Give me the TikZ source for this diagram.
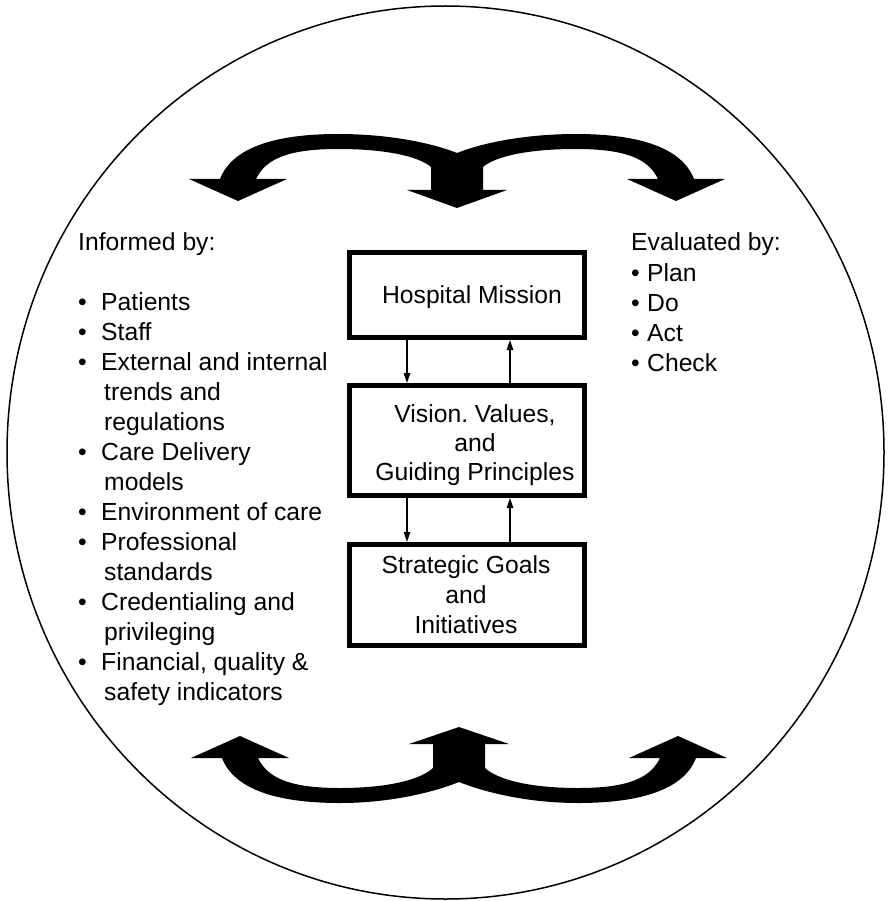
\documentclass[tikz,border=0pt]{standalone}
\usepackage{fontspec}
\setmainfont{Liberation Sans}
\frenchspacing
\usetikzlibrary{arrows.meta}
\newcommand\bu{\makebox[23pt][l]{•}}
\newcommand\bur{\makebox[16pt][l]{•}}
\begin{document}
\begin{tikzpicture}[x=1pt,y=-1pt,
  box/.style={draw, line width=5pt, minimum width=235pt, inner sep=0pt},
  conn/.style={line width=1.2pt, -{Triangle[length=10pt,width=6.5pt]}},
  txt/.style={inner sep=0pt, font=\fontsize{24.7}{30}\selectfont},
  bigshape/.style={fill=black}]
\useasboundingbox (0,0) rectangle (889,901);
\fill[white] (0,0) rectangle (889,901);
% outer circle
\draw[line width=1.5pt] (445.5,452.5) ellipse [x radius=438.5pt, y radius=446.5pt];
% top triple arrow
\fill[bigshape] (189,179) -- (238,201) -- (287,179) -- (256,179)
  .. controls (266,158) and (290,149) .. (338,149)
  .. controls (385,149) and (418,156) .. (431,167)
  -- (431,190) -- (407,190) -- (457,208) -- (507,190) -- (483,190) -- (483,167)
  .. controls (496,156) and (529,149) .. (576,149)
  .. controls (624,149) and (648,158) .. (658,179)
  -- (627,179) -- (676,201) -- (725,179) -- (694,179)
  .. controls (682,148) and (640,134) .. (576,134)
  .. controls (525,134) and (482,143) .. (457,153)
  .. controls (432,143) and (389,134) .. (338,134)
  .. controls (274,134) and (232,148) .. (220,179)
  -- cycle;
% bottom triple arrow
\fill[bigshape] (191,758) -- (240,736) -- (289,758) -- (258,758)
  .. controls (268,779) and (292,788) .. (340,788)
  .. controls (387,788) and (420,780) .. (433,768)
  -- (433,744) -- (409,744) -- (459,727) -- (509,744) -- (485,744) -- (485,768)
  .. controls (498,780) and (531,788) .. (578,788)
  .. controls (626,788) and (650,779) .. (660,758)
  -- (629,758) -- (678,736) -- (727,758) -- (696,758)
  .. controls (684,789) and (642,803) .. (578,803)
  .. controls (527,803) and (484,792) .. (459,782)
  .. controls (434,792) and (391,803) .. (340,803)
  .. controls (276,803) and (234,789) .. (222,758)
  -- cycle;
% boxes
\node[box, minimum height=85pt] (b1) at (467,295) {};
\node[box, minimum height=110pt] (b2) at (467,440.5) {};
\node[box, minimum height=101pt] (b3) at (467,595) {};
\node[txt, anchor=base] (t1) at (472,303) {Hospital Mission};
\node[txt, anchor=base, align=center, font=\fontsize{24.7}{29}\selectfont] (t2) at (475,480) {Vision. Values,\\and\\Guiding Principles};
\node[txt, anchor=base, align=center] (t3) at (466,633) {Strategic Goals\\and\\Initiatives};
% connectors
\coordinate (ax) at (407,0);
\coordinate (ay) at (510,0);
\draw[conn] (b1.south -| ax) -- (b2.north -| ax);
\draw[conn] (b2.north -| ay) -- (b1.south -| ay);
\draw[conn] (b2.south -| ax) -- (b3.north -| ax);
\draw[conn] (b3.north -| ay) -- (b2.south -| ay);
% lists
\node[txt, anchor=base west, align=left] (inf) at (78,700) {Informed by:\\[30pt]
\bu Patients\\
\bu Staff\\
\bu External and internal\\
\hspace*{26pt}trends and\\
\hspace*{26pt}regulations\\
\bu Care Delivery\\
\hspace*{26pt}models\\
\bu Environment of care\\
\bu Professional\\
\hspace*{26pt}standards\\
\bu Credentialing and\\
\hspace*{26pt}privileging\\
\bu Financial, quality \&\\
\hspace*{26pt}safety indicators};
\node[txt, anchor=base west, align=left] (eva) at (631,371) {Evaluated by:\\[1pt]
\bur Plan\\
\bur Do\\
\bur Act\\
\bur Check};
\end{tikzpicture}
\end{document}
